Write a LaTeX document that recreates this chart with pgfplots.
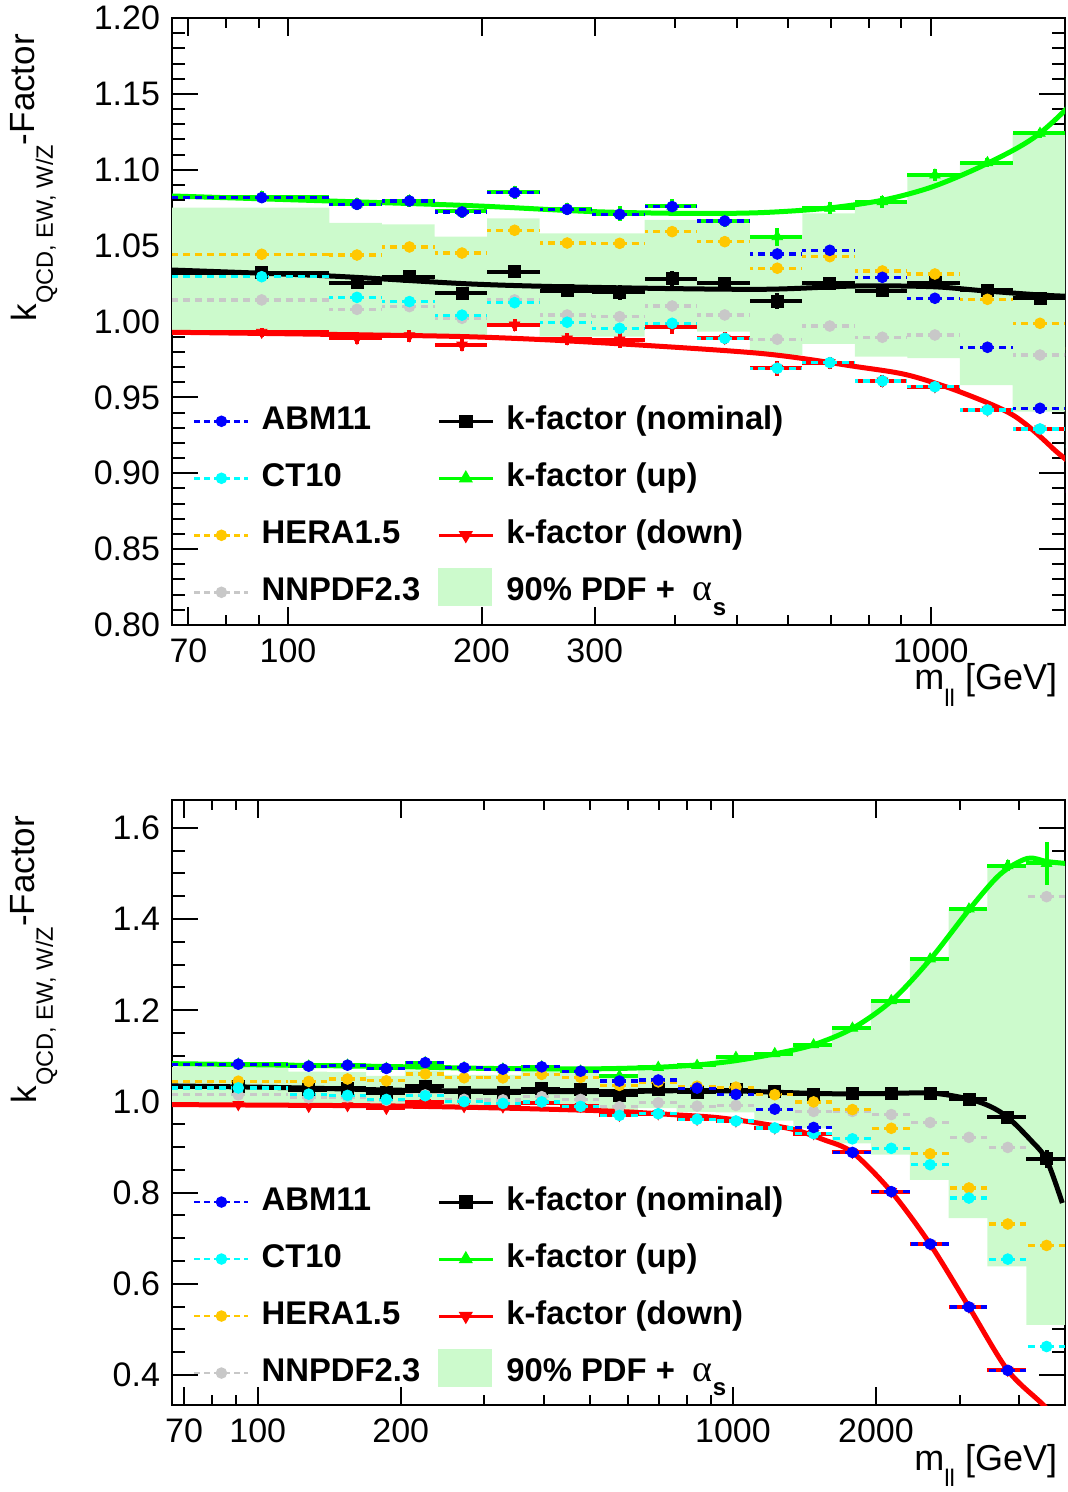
\documentclass[border=0pt]{standalone}
\usepackage{pgfplots}
\pgfplotsset{compat=1.18}
\usepackage{pgfplotstable}
\usepackage{fontspec}
\setmainfont{Liberation Sans}
\newfontfamily\greekserif{Liberation Serif}
\definecolor{bandgreen}{RGB}{204,250,204}
\definecolor{heraor}{RGB}{255,200,0}
\definecolor{nngrey}{RGB}{200,200,200}
\definecolor{ctcyan}{RGB}{0,255,255}
\definecolor{kgreen}{RGB}{0,255,0}

\pgfplotstableread{
x hw abm ct hera nnpdf nom nome up upe down downe
91.0 25.0 1.0816 1.0295 1.0443 1.0142 1.0322 0.004 1.0820 0.004 0.9929 0.003
128.0 12.0 1.0772 1.0159 1.0438 1.0080 1.0256 0.004 1.0775 0.004 0.9889 0.004
154.5 14.5 1.0794 1.0131 1.0491 1.0098 1.0295 0.004 1.0795 0.004 0.9906 0.004
186.5 17.5 1.0722 1.0042 1.0451 1.0021 1.0186 0.004 1.0725 0.004 0.9845 0.004
225.15 21.15 1.0849 1.0124 1.0601 1.0142 1.0329 0.0045 1.0850 0.004 0.9977 0.004
271.8 25.5 1.0739 0.9995 1.0517 1.0043 1.0203 0.004 1.0740 0.004 0.9885 0.004
328.05 30.75 1.0706 0.9955 1.0515 1.0032 1.0192 0.005 1.0710 0.005 0.9878 0.005
395.95 37.15 1.0757 0.9988 1.0592 1.0102 1.0282 0.005 1.0760 0.005 0.9966 0.005
477.95 44.85 1.0662 0.9889 1.0526 1.0043 1.0252 0.004 1.0665 0.004 0.9889 0.004
576.95 54.15 1.0445 0.9692 1.0351 0.9883 1.0135 0.0055 1.0559 0.006 0.9692 0.005
696.45 65.35 1.0469 0.9729 1.0427 0.9970 1.0252 0.004 1.0746 0.004 0.9729 0.004
840.65 78.85 1.0291 0.9608 1.0333 0.9896 1.0203 0.004 1.0790 0.004 0.9608 0.004
1014.7 95.2 1.0153 0.9570 1.0313 0.9911 1.0256 0.003 1.0965 0.004 0.9570 0.003
1224.85 114.95 0.9830 0.9417 1.0146 0.9830 1.0208 0.003 1.1047 0.003 0.9417 0.003
1478.5 138.7 0.9428 0.9292 0.9988 0.9779 1.0153 0.003 1.1240 0.003 0.9292 0.003
1784.65 167.45 0.8880 0.9178 0.9820 0.9780 1.0170 0.004 1.1605 0.004 0.8880 0.004
2154.25 202.15 0.8020 0.8970 0.9410 0.9710 1.0180 0.005 1.2210 0.005 0.8020 0.005
2600.4 244.0 0.6870 0.8610 0.8850 0.9536 1.0180 0.006 1.3125 0.006 0.6870 0.006
3138.95 294.55 0.5490 0.7880 0.8100 0.9210 1.0050 0.008 1.4220 0.008 0.5490 0.008
3789.0 355.5 0.4100 0.6540 0.7310 0.8990 0.9650 0.010 1.5170 0.012 0.4100 0.008
4572.25 427.75 0.2500 0.4623 0.6840 1.4490 0.8740 0.020 1.5220 0.047 0.2500 0.010
}\kdata

\pgfplotstableread{
x y
66 1.075
116 1.075
116 1.065
140.0 1.065
140.0 1.064
169.0 1.064
169.0 1.056
204.0 1.056
204.0 1.068
246.3 1.068
246.3 1.058
358.8 1.058
358.8 1.067
433.1 1.067
433.1 1.066
522.8 1.066
522.8 1.057
631.1 1.057
631.1 1.0713
761.8 1.0713
761.8 1.079
919.5 1.079
919.5 1.0977
1109.9 1.0977
1109.9 1.1053
1339.8 1.1053
1339.8 1.124
1617.2 1.124
1617.2 1.1605
1952.1 1.1605
1952.1 1.221
2356.4 1.221
2356.4 1.3125
2844.4 1.3125
2844.4 1.422
3433.5 1.422
3433.5 1.517
4144.5 1.517
4144.5 1.522
5000 1.522
5000 0.510
4144.5 0.510
4144.5 0.638
3433.5 0.638
3433.5 0.744
2844.4 0.744
2844.4 0.828
2356.4 0.828
2356.4 0.883
1952.1 0.883
1952.1 0.908
1617.2 0.908
1617.2 0.9406
1339.8 0.9406
1339.8 0.958
1109.9 0.958
1109.9 0.9758
919.5 0.9758
919.5 0.9768
761.8 0.9768
761.8 0.9852
631.1 0.9852
631.1 0.978
522.8 0.978
522.8 0.9933
433.1 0.9933
433.1 0.997
358.8 0.997
358.8 0.990
246.3 0.990
246.3 0.997
204.0 0.997
204.0 0.991
169.0 0.991
169.0 0.990
116 0.990
116 0.9925
66 0.9925
}\bandpoly

\pgfplotstableread{
x y
66 1.0827
116 1.0794
193 1.0763
298 1.0724
420 1.0712
542 1.0717
688 1.0746
843 1.0800
1008 1.0889
1225 1.1042
1477 1.1240
1785 1.1600
2154 1.2200
2600 1.3110
3139 1.4200
3650 1.4980
4165 1.5330
4572 1.5260
5000 1.5220
}\upcurve

\pgfplotstableread{
x y
66 1.0339
116 1.0300
193 1.0247
298 1.0225
542 1.0212
767 1.0234
1008 1.0229
1227 1.0200
1587 1.0168
2000 1.0170
2625 1.0180
3139 1.0050
3479 0.9890
3789 0.9650
4225 0.9160
4572 0.8720
4935 0.7770
}\nomcurve

\pgfplotstableread{
x y
66 0.9929
116 0.9915
193 0.9899
298 0.9863
542 0.9790
767 0.9702
921 0.9647
1109 0.9537
1341 0.9384
1548 0.9164
1785 0.8880
2154 0.8020
2600 0.6870
3139 0.5490
3789 0.4100
4502 0.3340
5000 0.2800
}\downcurve

\pgfplotsset{
  legend image code/.code={\draw[mark repeat=2,mark phase=2,#1] plot coordinates {(0pt,0pt) (13.5pt,0pt) (27pt,0pt)};},
  pdfpts/.style={only marks, mark=*, mark size=2.7pt, forget plot,
    error bars/x dir=both, error bars/x explicit, error bars/error mark=none,
    error bars/error bar style={line width=1.6pt, dash pattern=on 3.5pt off 2.5pt}},
  kpts/.style={only marks, mark size=3pt, forget plot,
    error bars/x dir=both, error bars/y dir=both, error bars/x explicit, error bars/y explicit,
    error bars/error mark=none,
    error bars/error bar style={line width=2pt}},
  kcurve/.style={line width=2.5pt, smooth, no marks, forget plot},
  pdfleg/.style={line width=1.3pt, dash pattern=on 3pt off 2pt, mark=*, mark size=2.2pt, mark options={solid}},
  kleg/.style={line width=1.5pt, mark size=2.6pt, mark options={solid}},
}

\newcommand{\kcontent}{%
  \addplot[fill=bandgreen, draw=none, forget plot] table {\bandpoly};
  \addplot[kcurve, kgreen] table {\upcurve};
  \addplot[kcurve, black] table {\nomcurve};
  \addplot[kcurve, red] table {\downcurve};
  \addplot[kpts, black, mark=square*] table[x=x, y=nom, x error=hw, y error=nome] {\kdata};
  \addplot[kpts, kgreen, mark=triangle*] table[x=x, y=up, x error=hw, y error=upe] {\kdata};
  \addplot[kpts, red, mark=triangle*, mark options={rotate=180}] table[x=x, y=down, x error=hw, y error=downe] {\kdata};
  \addplot[pdfpts, nngrey] table[x=x, y=nnpdf, x error=hw] {\kdata};
  \addplot[pdfpts, heraor] table[x=x, y=hera, x error=hw] {\kdata};
  \addplot[pdfpts, ctcyan] table[x=x, y=ct, x error=hw] {\kdata};
  \addplot[pdfpts, blue] table[x=x, y=abm, x error=hw] {\kdata};
  \addlegendimage{pdfleg, blue}\addlegendentry{ABM11}
  \addlegendimage{kleg, black, mark=square*}\addlegendentry{k-factor (nominal)}
  \addlegendimage{pdfleg, ctcyan}\addlegendentry{CT10}
  \addlegendimage{kleg, kgreen, mark=triangle*}\addlegendentry{k-factor (up)}
  \addlegendimage{pdfleg, heraor}\addlegendentry{HERA1.5}
  \addlegendimage{kleg, red, mark=triangle*, mark options={rotate=180}}\addlegendentry{k-factor (down)}
  \addlegendimage{pdfleg, nngrey}\addlegendentry{NNPDF2.3}
  \addlegendimage{legend image code/.code={\fill[bandgreen, overlay] (0pt,-6.5pt) rectangle (26.5pt,12pt);}}
  \addlegendentry{90\% PDF +\hspace{0.55em}{\mdseries\greekserif\fontsize{19}{19}\selectfont α}\raisebox{-0.45em}{\fontsize{12}{12}\selectfont s}}
}

\begin{document}
\begin{tikzpicture}
\path[use as bounding box] (0pt,0pt) rectangle (534pt,-746pt);
\pgfplotsset{every axis/.append style={
    xmode=log, scale only axis, width=446.5pt, xmin=66,
    axis line style={line width=1pt},
    tick align=inside, xtick pos=both, ytick pos=both,
    xticklabel pos=lower, yticklabel pos=left,
    major tick length=13pt, minor tick length=6.5pt,
    tick style={line width=1pt, black},
    xtick style={/pgfplots/major tick length=9pt, /pgfplots/minor tick length=5pt},
    extra x tick style={/pgfplots/major tick length=5pt},
    /pgf/number format/assume math mode=true,
    tick label style={font=\fontsize{17}{17}\selectfont},
    xticklabel style={yshift=-3.5pt},
    yticklabel style={xshift=-2.5pt},
    xlabel={m\raisebox{-0.45em}{\fontsize{12}{12}\selectfont ll}\ [GeV]},
    xlabel style={font=\fontsize{18}{18}\selectfont, at={(axis description cs:0.999,0)}, anchor=base east, yshift=-32.5pt},
    ylabel={k\raisebox{-8pt}{\fontsize{11.8}{11.8}\selectfont QCD, EW, W/Z}\raisebox{1pt}{-Factor}},
    ylabel style={font=\fontsize{17.5}{17.5}\selectfont, at={(axis description cs:-0.1512,0.985)}, anchor=base east},
    legend columns=2,
    legend cell align=left,
    legend style={draw=none, fill=none, at={(axis description cs:0.0165,0.3692)}, anchor=north west,
      font=\bfseries\fontsize{16.4}{18}\selectfont,
      nodes={inner sep=0pt, text height=12pt, text depth=4pt},
      row sep=12.5pt,
      /tikz/column 1/.style={column sep=6pt},
      /tikz/column 2/.style={column sep=8.5pt},
      /tikz/column 3/.style={column sep=6pt}},
}}
\begin{axis}[at={(86pt,-9pt)}, anchor=north west, height=303.5pt,
  xmax=1617.2, ymin=0.8, ymax=1.2,
  ytick={0.80,0.85,0.90,0.95,1.00,1.05,1.10,1.15,1.20}, minor y tick num=4,
  yticklabel style={/pgf/number format/.cd, fixed, fixed zerofill, precision=2},
  xtick={100,1000}, xticklabels={100,1000},
  extra x ticks={70,200,300}, extra x tick labels={70,200,300},
  minor xtick={80,90,400,500,600,700,800,900}]
\kcontent
\end{axis}
\begin{axis}[at={(86pt,-400pt)}, anchor=north west, height=302.5pt,
  xmax=5000, ymin=0.334, ymax=1.661,
  ytick={0.4,0.6,0.8,1.0,1.2,1.4,1.6}, minor y tick num=3,
  yticklabel style={/pgf/number format/.cd, fixed, fixed zerofill, precision=1},
  xtick={100,1000}, xticklabels={100,1000},
  extra x ticks={70,200,2000}, extra x tick labels={70,200,2000},
  minor xtick={80,90,300,400,500,600,700,800,900,3000,4000}]
\kcontent
\end{axis}
\end{tikzpicture}
\end{document}
